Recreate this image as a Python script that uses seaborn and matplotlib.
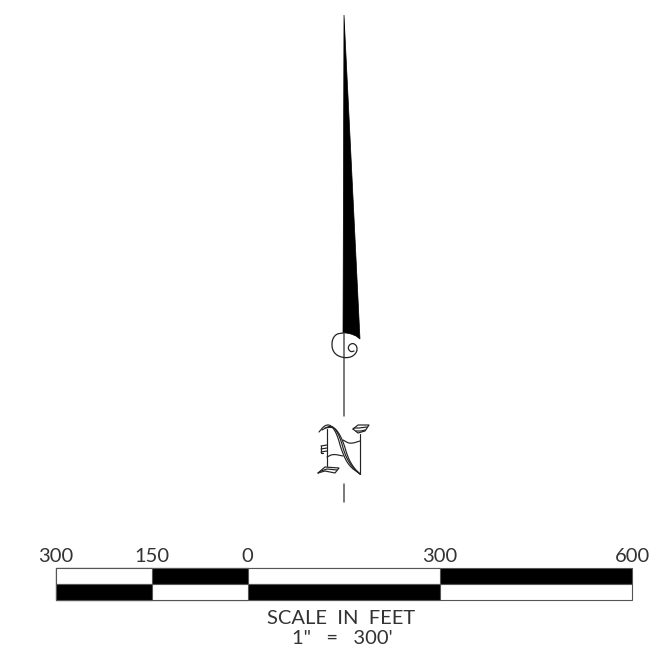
import numpy as np
import matplotlib
matplotlib.use("Agg")
import matplotlib.pyplot as plt
from matplotlib.patches import Polygon
import seaborn as sns

W, H = 657, 648
sns.set_theme(style="white")
plt.rcParams['font.family'] = ['Lato', 'DejaVu Sans']

# scale bar, feet measured from its left end
segment_ends = [900, 600, 300, 150]
top_row_colors = ['black', 'white', 'black', 'white']
bottom_row_colors = ['white', 'black', 'white', 'black']
rows = ['top', 'bottom']
tick_positions = [0, 150, 300, 600, 900]
tick_labels = ['300', '150', '0', '300', '600']

# north arrow drawing in page pixels
blade_x = [344, 343, 346, 351, 356, 360]
blade_y = [15, 333, 333, 334, 336, 339]
shaft_x = [344, 344]
shaft_y = [333, 416]
tail_y = [484, 502]
curl_x = [343, 336, 332, 332, 336, 344, 352, 357, 357, 353, 349, 348, 351, 354]
curl_y = [333, 334, 340, 349, 355, 358, 357, 352, 346, 343, 345, 349, 352, 351]
n_curves = [
    ([319, 325, 331, 337, 342, 349, 360], [432, 425, 425, 434, 452, 466, 474]),
    ([322, 329, 334, 340, 345, 352, 360], [430, 426, 427, 437, 455, 467, 474]),
    ([325, 332, 337, 343, 348, 354, 360], [428, 427, 430, 441, 458, 468, 474]),
    ([327, 333, 343], [457, 454, 456]),
    ([343, 350, 360], [440, 444, 441]),
]
n_straight = [
    ([327, 327], [429, 466]),
    ([360, 360], [434, 474]),
    ([353, 358, 369, 365, 358, 353], [429, 425, 425, 431, 433, 429]),
    ([354, 359, 367], [428, 428, 427]),
    ([356, 361, 365], [431, 431, 430]),
    ([321, 327], [446, 445]),
    ([321, 327], [449, 448]),
    ([321, 327], [452, 451]),
    ([321, 321, 323], [446, 453, 453]),
    ([318, 325, 339, 335, 325, 318], [473, 467, 468, 473, 471, 473]),
    ([321, 327, 337], [471, 469, 470]),
]
title_lines = ['SCALE  IN  FEET', '1"   =   300\'']


def smooth(xs, ys, passes=3):
    """Round off a hand-traced stroke by corner cutting."""
    p = np.column_stack([xs, ys]).astype(float)
    for _ in range(passes):
        q = np.empty((2 * (len(p) - 1), 2))
        q[0::2] = 0.75 * p[:-1] + 0.25 * p[1:]
        q[1::2] = 0.25 * p[:-1] + 0.75 * p[1:]
        p = np.vstack([p[:1], q, p[-1:]])
    return p[:, 0], p[:, 1]


fig = plt.figure(figsize=(W / 100, H / 100), dpi=100)
fig.patch.set_facecolor('white')

# overlay in page pixels for the arrow
page = fig.add_axes([0, 0, 1, 1])
page.set_xlim(0, W)
page.set_ylim(H, 0)
page.axis('off')
page.add_patch(Polygon(np.column_stack([blade_x, blade_y]), closed=True, fc='black', ec='black', lw=0.5))
page.plot(shaft_x, shaft_y, color='#555555', lw=1.1)
page.plot(shaft_x, tail_y, color='#555555', lw=1.1)
page.plot(*smooth(curl_x, curl_y), color='#222222', lw=0.9)
for sx, sy in n_curves:
    page.plot(*smooth(sx, sy, passes=2), color='#222222', lw=0.85)
for sx, sy in n_straight:
    page.plot(sx, sy, color='#222222', lw=0.85)
text_style = dict(ha='center', va='center', fontsize=14.5, fontweight='normal', color='#333333')
page.text(341.5, 618.5, title_lines[0], **text_style)
page.text(342, 638, title_lines[1], **text_style)

# scale bar axes
ax = fig.add_axes([55.5 / W, 1 - 600 / H, (632 - 55.5) / W, 32 / H])
for end, c_top, c_bot in zip(segment_ends, top_row_colors, bottom_row_colors):
    sns.barplot(x=[end, end], y=rows, order=rows, hue=rows, hue_order=rows,
                palette={'top': c_top, 'bottom': c_bot}, legend=False, width=1.0, dodge=False,
                edgecolor='#555555', linewidth=0.8, ax=ax, clip_on=False)
ax.set_xlim(0, 900)
ax.set_ylim(1.5, -0.5)
ax.set_xlabel('')
ax.set_ylabel('')
ax.set_yticks([])
ax.xaxis.tick_top()
ax.set_xticks(tick_positions)
ax.set_xticklabels(tick_labels, fontsize=14.5, fontweight='normal', color='#333333')
ax.tick_params(axis='x', length=0, pad=2)
ax.patch.set_alpha(0)
for s in ax.spines.values():
    s.set_visible(False)

fig.savefig('out.png', dpi=100)
